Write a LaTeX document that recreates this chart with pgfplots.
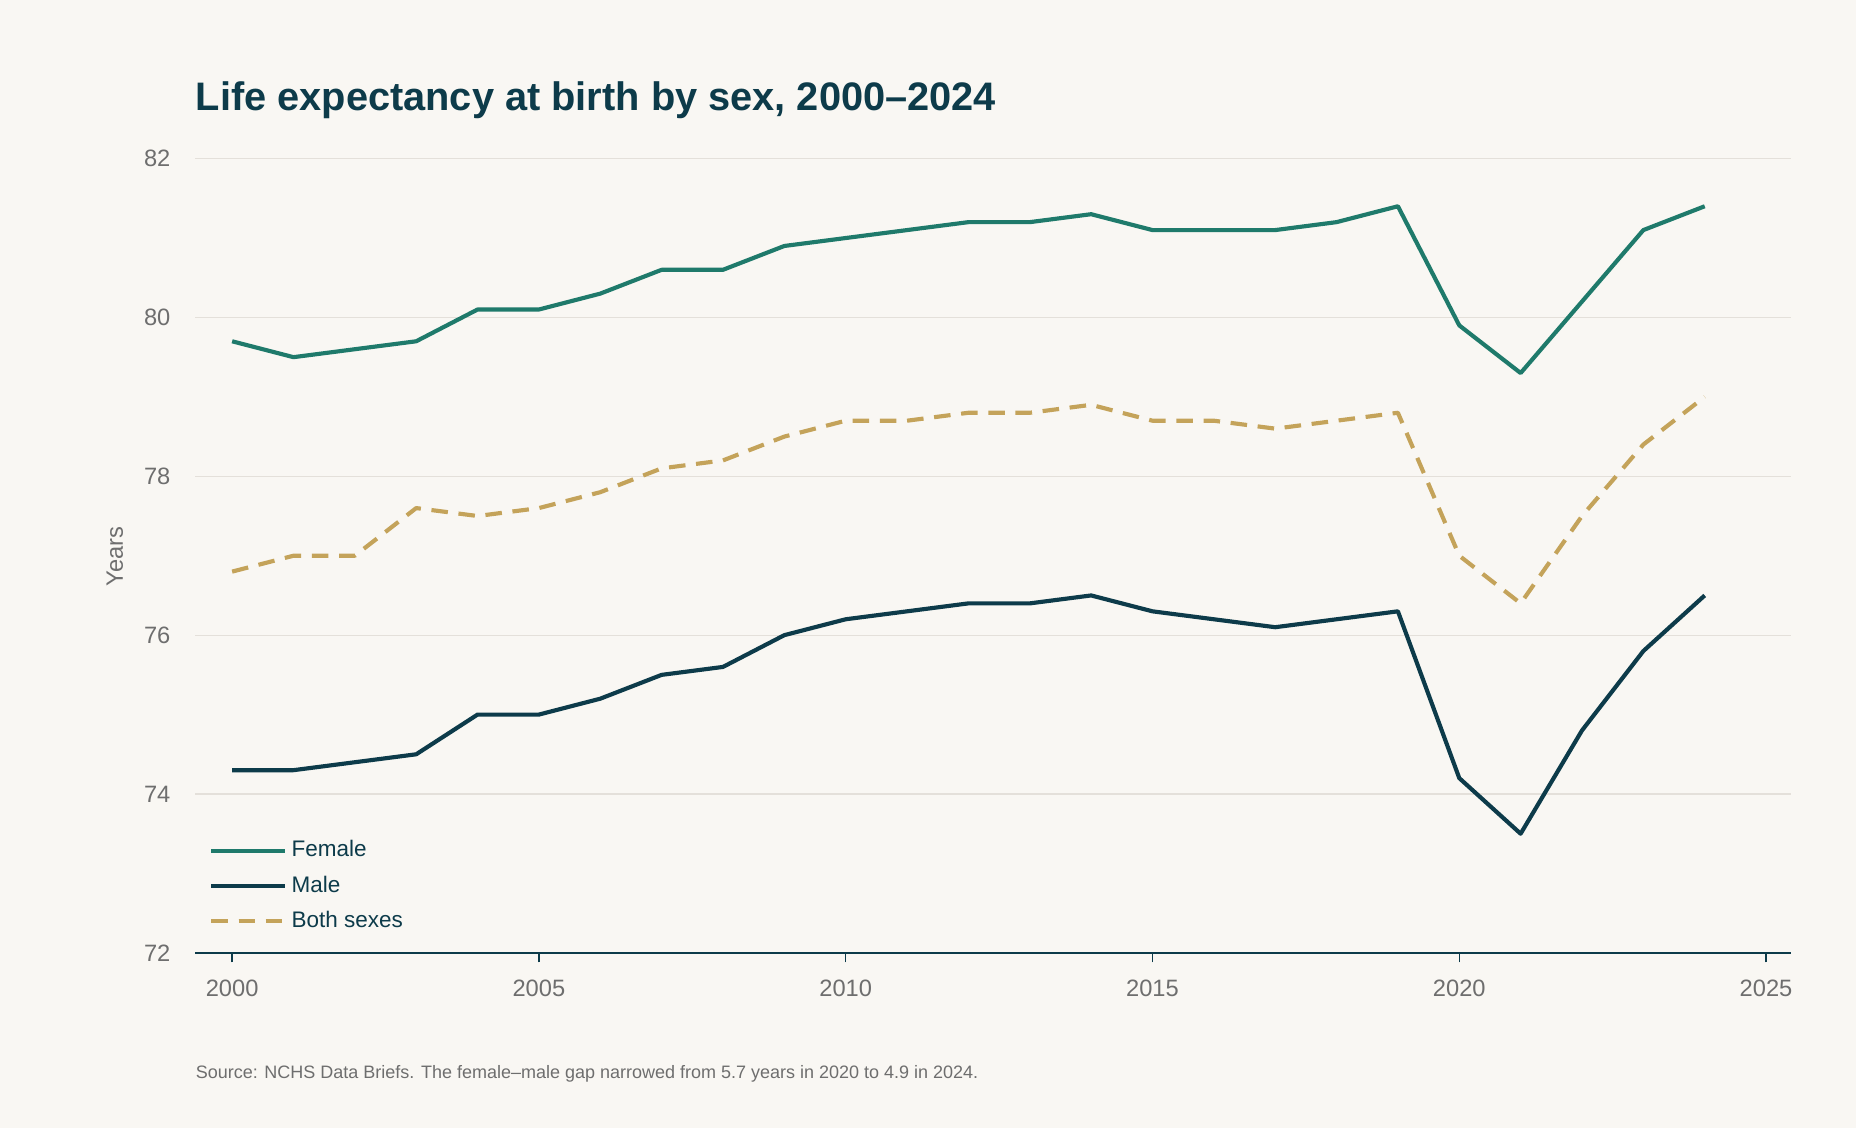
\documentclass[border=0pt]{standalone}
\usepackage{fontspec}
\setmainfont{Liberation Sans}
\usepackage{pgfplots}
\pgfplotsset{compat=1.18}
\definecolor{bg}{HTML}{F9F7F3}
\definecolor{fem}{HTML}{1F7A6B}
\definecolor{mal}{HTML}{0D3B4A}
\definecolor{both}{HTML}{C4A35A}
\definecolor{tick}{HTML}{6E6E6E}
\definecolor{grd}{HTML}{E4E0DA}
\begin{document}
\begin{tikzpicture}
\useasboundingbox[fill=bg] (0,0) rectangle (784pt,476.5pt);
\node[anchor=base west,font=\bfseries\fontsize{16.8}{18}\selectfont,text=mal,inner sep=0] at (82.5pt,430pt) {Life expectancy at birth by sex, 2000–2024};
\node[anchor=base west,font=\fontsize{7.6}{9}\selectfont,text=tick,inner sep=0] at (82.5pt,21pt) {Source: NCHS Data Briefs. The female–male gap narrowed from 5.7 years in 2020 to 4.9 in 2024.};
\node[rotate=90,font=\fontsize{10}{12}\selectfont,text=tick] at (48.5pt,241.5pt) {Years};
\begin{axis}[at={(82.5pt,74pt)},anchor=south west,scale only axis,width=674pt,height=335.5pt,
 xmin=1999.4,xmax=2025.405,ymin=72,ymax=82,
 xtick={2000,2005,...,2025},ytick={72,74,...,82},
 xticklabel style={/pgf/number format/1000 sep={},yshift=-4pt},
 yticklabel style={xshift=-3pt},
 /pgf/number format/assume math mode=true,
 ticklabel style={font=\fontsize{10}{12}\selectfont,text=tick},
 axis x line*=bottom, axis y line*=left,
 x axis line style={mal,line width=0.6pt,-},
 y axis line style={draw=none},
 xtick style={mal,line width=0.6pt},
 ytick style={draw=none},
 tick align=outside, major tick length=4pt,
 ymajorgrids, grid style={grd,line width=0.5pt},
 legend style={at={(0.004,0.015)},anchor=south west,draw=none,fill=none,font=\fontsize{9.5}{11}\selectfont,text=mal,row sep=2.5pt},
 legend cell align=left,
 legend image code/.code={\draw[#1] (0pt,0pt) -- (25pt,0pt);\path (0pt,0pt) -- (31pt,0pt);},
 every axis plot/.append style={line width=1.75pt,line join=round}
]
\addplot[fem] coordinates {(2000,79.7)(2001,79.5)(2002,79.6)(2003,79.7)(2004,80.1)(2005,80.1)(2006,80.3)(2007,80.6)(2008,80.6)(2009,80.9)(2010,81.0)(2011,81.1)(2012,81.2)(2013,81.2)(2014,81.3)(2015,81.1)(2016,81.1)(2017,81.1)(2018,81.2)(2019,81.4)(2020,79.9)(2021,79.3)(2022,80.2)(2023,81.1)(2024,81.4)};
\addlegendentry{Female}
\addplot[mal] coordinates {(2000,74.3)(2001,74.3)(2002,74.4)(2003,74.5)(2004,75.0)(2005,75.0)(2006,75.2)(2007,75.5)(2008,75.6)(2009,76.0)(2010,76.2)(2011,76.3)(2012,76.4)(2013,76.4)(2014,76.5)(2015,76.3)(2016,76.2)(2017,76.1)(2018,76.2)(2019,76.3)(2020,74.2)(2021,73.5)(2022,74.8)(2023,75.8)(2024,76.5)};
\addlegendentry{Male}
\addplot[both,dash pattern=on 7pt off 4.5pt] coordinates {(2000,76.8)(2001,77.0)(2002,77.0)(2003,77.6)(2004,77.5)(2005,77.6)(2006,77.8)(2007,78.1)(2008,78.2)(2009,78.5)(2010,78.7)(2011,78.7)(2012,78.8)(2013,78.8)(2014,78.9)(2015,78.7)(2016,78.7)(2017,78.6)(2018,78.7)(2019,78.8)(2020,77.0)(2021,76.4)(2022,77.5)(2023,78.4)(2024,79.0)};
\addlegendentry{Both sexes}
\end{axis}
\end{tikzpicture}
\end{document}
